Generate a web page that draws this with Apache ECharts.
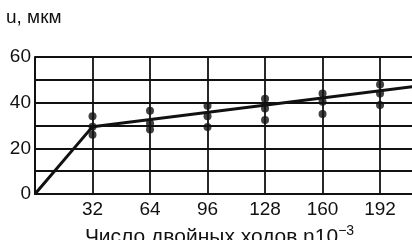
<!DOCTYPE html>
<html>
<head>
<meta charset="utf-8">
<script src="https://cdn.jsdelivr.net/npm/echarts@6/dist/echarts.min.js"></script>
<style>
html, body { margin: 0; padding: 0; background: #fff; }
#chart { width: 412px; height: 240px; }
</style>
</head>
<body>
<div id="chart"></div>
<script>
// данные
var xTicks = [32, 64, 96, 128, 160, 192];
var yTicks = [0, 20, 40, 60];
var wearLine = [[0, 0], [32, 29.5], [212, 47.2]];
var measX = [32, 32, 32, 64, 64, 64, 96, 96, 96, 128, 128, 128, 160, 160, 160, 192, 192, 192];
var measY = [34, 29.5, 26, 36.5, 31, 28.3, 38.7, 34, 29.3, 41.7, 37.5, 32.4, 44, 40.4, 35, 48, 44, 39];

var ink = '#111';
var font = 'Liberation Sans';

var chart = echarts.init(document.getElementById('chart'));

var points = measX.map(function (x, i) { return [x, measY[i]]; });

var option = {
    backgroundColor: '#fff',
    animation: false,
    grid: {
        left: 35,
        top: 57,
        bottom: 46,
        right: -4,
        outerBoundsMode: 'none'
    },
    title: {
        text: 'u, мкм',
        left: 6,
        top: 8,
        padding: 0,
        textStyle: { fontFamily: font, fontSize: 19, fontWeight: 'normal', color: ink }
    },
    xAxis: {
        type: 'value',
        min: 0,
        max: 212,
        interval: 32,
        axisLine: { show: true, onZero: false, lineStyle: { color: ink, width: 2 } },
        axisTick: { show: false },
        splitLine: { show: true, lineStyle: { color: ink, width: 1.8 } },
        axisLabel: {
            margin: 6,
            fontFamily: font,
            fontSize: 19,
            color: ink,
            showMaxLabel: false,
            formatter: function (v) { return xTicks.indexOf(v) >= 0 ? String(v) : ''; }
        },
        name: '{t|Число двойных ходов n10}{s|−3}',
        nameLocation: 'middle',
        nameGap: 22,
        nameTextStyle: {
            padding: [0, 12, 0, 0],
            rich: {
                t: { fontFamily: font, fontSize: 21, color: ink },
                s: { fontFamily: font, fontSize: 14, color: ink, verticalAlign: 'top', padding: [0, 0, 12, 0] }
            }
        }
    },
    yAxis: {
        type: 'value',
        min: 0,
        max: 60,
        interval: 10,
        axisLine: { show: true, lineStyle: { color: ink, width: 2 } },
        axisTick: { show: false },
        splitLine: { show: true, lineStyle: { color: ink, width: 1.8 } },
        axisLabel: {
            margin: 4,
            fontFamily: font,
            fontSize: 19,
            color: ink,
            formatter: function (v) { return yTicks.indexOf(v) >= 0 ? String(v) : ''; }
        }
    },
    series: [
        {
            type: 'line',
            data: wearLine,
            symbol: 'none',
            clip: true,
            lineStyle: { color: ink, width: 3 }
        },
        {
            type: 'scatter',
            data: points,
            symbol: 'circle',
            symbolSize: 8,
            itemStyle: { color: ink }
        }
    ]
};

chart.setOption(option);
</script>
</body>
</html>
